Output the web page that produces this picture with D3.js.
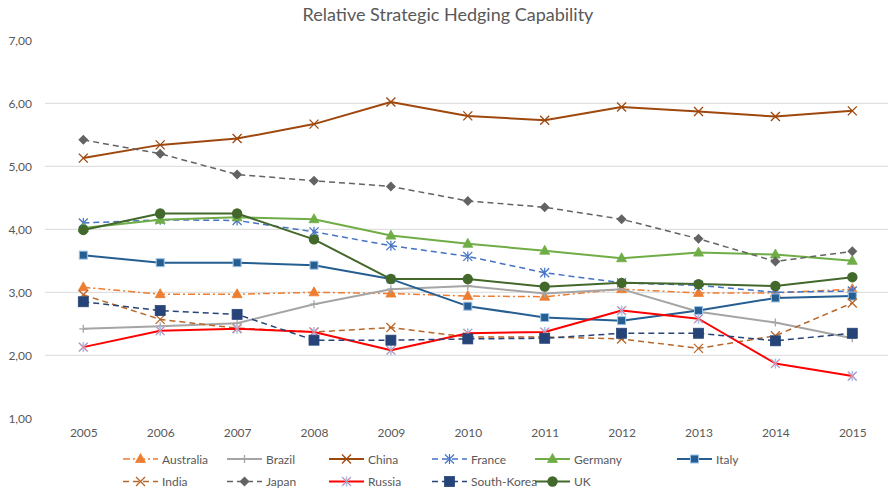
<!DOCTYPE html>
<html>
<head>
<meta charset="utf-8">
<script src="https://cdn.jsdelivr.net/npm/d3@7"></script>
<style>
  html, body { margin: 0; padding: 0; background: #fff; }
  svg { display: block; font-family: Lato, "Open Sans", sans-serif; }
</style>
</head>
<body>
<svg id="chart" width="888" height="491"></svg>
<script>
// Years on the x axis
const years = ["2005","2006","2007","2008","2009","2010","2011","2012","2013","2014","2015"];
const yTicks = [1, 2, 3, 4, 5, 6, 7];

// Series values, one array per country
const australia  = [3.08, 2.97, 2.97, 3.00, 2.98, 2.94, 2.93, 3.05, 2.99, 2.99, 3.05];
const brazil     = [2.42, 2.46, 2.51, 2.81, 3.05, 3.10, 2.98, 3.05, 2.69, 2.52, 2.27];
const china      = [5.13, 5.34, 5.44, 5.67, 6.02, 5.80, 5.73, 5.94, 5.87, 5.79, 5.88];
const france     = [4.10, 4.15, 4.14, 3.96, 3.74, 3.57, 3.31, 3.15, 3.11, 3.00, 3.02];
const germany    = [4.02, 4.15, 4.19, 4.16, 3.90, 3.77, 3.66, 3.54, 3.63, 3.60, 3.50];
const italy      = [3.59, 3.47, 3.47, 3.43, 3.21, 2.78, 2.60, 2.55, 2.71, 2.91, 2.94];
const india      = [2.96, 2.57, 2.43, 2.37, 2.44, 2.29, 2.29, 2.26, 2.11, 2.31, 2.83];
const japan      = [5.42, 5.20, 4.87, 4.77, 4.68, 4.45, 4.35, 4.16, 3.85, 3.49, 3.65];
const russia     = [2.13, 2.39, 2.42, 2.37, 2.08, 2.35, 2.37, 2.71, 2.58, 1.87, 1.67];
const southKorea = [2.85, 2.71, 2.65, 2.24, 2.24, 2.26, 2.27, 2.35, 2.35, 2.23, 2.35];
const uk         = [3.99, 4.25, 4.25, 3.84, 3.21, 3.21, 3.09, 3.15, 3.13, 3.10, 3.24];

const seriesNames = ["Australia","Brazil","China","France","Germany","Italy",
                     "India","Japan","Russia","South-Korea","UK"];
const seriesValues = [australia, brazil, china, france, germany, italy,
                      india, japan, russia, southKorea, uk];

// Drawing style for each series: line colour, dash pattern, marker
const styles = {
  "Australia":   { color: "#ED7D31", dash: "7,3,2,3", width: 1.5, marker: "triangle" },
  "Brazil":      { color: "#A5A5A5", dash: null,      width: 2,   marker: "plus" },
  "China":       { color: "#9E480E", dash: null,      width: 2,   marker: "cross" },
  "France":      { color: "#4472C4", dash: "6,4",     width: 1.5, marker: "asterisk" },
  "Germany":     { color: "#70AD47", dash: null,      width: 2,   marker: "triangle" },
  "Italy":       { color: "#255E91", dash: null,      width: 2,   marker: "squareSmall" },
  "India":       { color: "#B8672A", dash: "6,4",     width: 1.5, marker: "cross" },
  "Japan":       { color: "#636363", dash: "6,4",     width: 1.5, marker: "diamond" },
  "Russia":      { color: "#FF0000", dash: null,      width: 2,   marker: "asteriskRed" },
  "South-Korea": { color: "#264478", dash: "6,4",     width: 1.5, marker: "square" },
  "UK":          { color: "#43682B", dash: null,      width: 2,   marker: "circle" }
};

const svg = d3.select("#chart");
const plot = { left: 45, right: 890, top: 40.3, bottom: 418.3 };

const x = d3.scalePoint().domain(years).range([83.3, 852.3]);
const y = d3.scaleLinear().domain([1, 7]).range([plot.bottom, plot.top]);

const textColor = "#595959";
const font = "Lato, Open Sans, sans-serif";

// Title
svg.append("text")
  .attr("x", 448).attr("y", 21)
  .attr("text-anchor", "middle")
  .attr("font-size", 18)
  .attr("font-family", font)
  .attr("fill", textColor)
  .text("Relative Strategic Hedging Capability");

// Horizontal gridlines (2 to 6)
svg.append("g").selectAll("line")
  .data(yTicks.filter(v => v > 1 && v < 7))
  .join("line")
  .attr("x1", plot.left).attr("x2", plot.right)
  .attr("y1", d => y(d)).attr("y2", d => y(d))
  .attr("stroke", "#D9D9D9").attr("stroke-width", 1);

// Y axis labels
const fmt = v => v.toFixed(2).replace(".", ",");
const yAxis = d3.axisLeft(y).tickValues(yTicks).tickFormat(fmt).tickSize(0).tickPadding(0);
const yg = svg.append("g").attr("transform", "translate(32,0)").call(yAxis);
yg.select(".domain").remove();
yg.selectAll("text").attr("fill", textColor).attr("font-size", 12)
  .attr("font-family", font);

// X axis labels
const xAxis = d3.axisBottom(x).tickSize(0).tickPadding(0);
const xg = svg.append("g").attr("transform", "translate(0,428)").call(xAxis);
xg.select(".domain").remove();
xg.selectAll("text").attr("fill", textColor).attr("font-size", 12)
  .attr("font-family", font);

// Marker drawing
function drawMarker(g, kind, color, cx, cy) {
  switch (kind) {
    case "triangle":
      g.append("path")
        .attr("d", `M${cx},${cy - 5.5} L${cx + 5},${cy + 3.5} L${cx - 5},${cy + 3.5} Z`)
        .attr("fill", color).attr("stroke", color).attr("stroke-width", 0.8);
      break;
    case "plus":
      g.append("path")
        .attr("d", `M${cx - 4},${cy} H${cx + 4} M${cx},${cy - 4} V${cy + 4}`)
        .attr("stroke", color).attr("stroke-width", 1.3).attr("fill", "none");
      break;
    case "cross":
      g.append("path")
        .attr("d", `M${cx - 4.5},${cy - 4.5} L${cx + 4.5},${cy + 4.5} M${cx - 4.5},${cy + 4.5} L${cx + 4.5},${cy - 4.5}`)
        .attr("stroke", color).attr("stroke-width", 1.3).attr("fill", "none");
      break;
    case "asterisk":
      g.append("path")
        .attr("d", `M${cx - 4.5},${cy - 4.5} L${cx + 4.5},${cy + 4.5} M${cx - 4.5},${cy + 4.5} L${cx + 4.5},${cy - 4.5} M${cx},${cy - 5} V${cy + 5}`)
        .attr("stroke", color).attr("stroke-width", 1.2).attr("fill", "none");
      break;
    case "asteriskRed":
      g.append("path")
        .attr("d", `M${cx - 4.5},${cy - 4.5} L${cx + 4.5},${cy + 4.5} M${cx - 4.5},${cy + 4.5} L${cx + 4.5},${cy - 4.5} M${cx},${cy - 5} V${cy + 5}`)
        .attr("stroke", "#A9C4EB").attr("stroke-width", 1.6).attr("fill", "none");
      g.append("path")
        .attr("d", `M${cx - 4},${cy - 4} L${cx + 4},${cy + 4} M${cx - 4},${cy + 4} L${cx + 4},${cy - 4}`)
        .attr("stroke", "#F07088").attr("stroke-width", 1).attr("fill", "none");
      break;
    case "squareSmall":
      g.append("rect")
        .attr("x", cx - 4).attr("y", cy - 4).attr("width", 8).attr("height", 8)
        .attr("fill", color).attr("stroke", "#9DC3E6").attr("stroke-width", 1);
      break;
    case "square":
      g.append("rect")
        .attr("x", cx - 5).attr("y", cy - 5).attr("width", 10).attr("height", 10)
        .attr("fill", color).attr("stroke", color).attr("stroke-width", 0.8);
      break;
    case "diamond":
      g.append("path")
        .attr("d", `M${cx},${cy - 5} L${cx + 5},${cy} L${cx},${cy + 5} L${cx - 5},${cy} Z`)
        .attr("fill", color);
      break;
    case "circle":
      g.append("circle")
        .attr("cx", cx).attr("cy", cy).attr("r", 5.2)
        .attr("fill", color);
      break;
  }
}

const line = d3.line()
  .x((d, i) => x(years[i]))
  .y(d => y(d));

// Series lines and markers
seriesNames.forEach((name, si) => {
  const st = styles[name];
  const vals = seriesValues[si];
  const g = svg.append("g").attr("class", "series");
  g.append("path")
    .datum(vals)
    .attr("d", line)
    .attr("fill", "none")
    .attr("stroke", st.color)
    .attr("stroke-width", st.width)
    .attr("stroke-dasharray", st.dash)
    .attr("stroke-linejoin", "round");
  vals.forEach((v, i) => drawMarker(g, st.marker, st.color, x(years[i]), y(v)));
});

// Legend: two rows
const legendCols = [123, 227, 329, 432, 535, 677];
const legendRows = [459, 481.5];
const legend = svg.append("g");
seriesNames.forEach((name, i) => {
  const st = styles[name];
  const lx = legendCols[i < 6 ? i : i - 6];
  const ly = legendRows[i < 6 ? 0 : 1];
  const g = legend.append("g");
  g.append("line")
    .attr("x1", lx).attr("x2", lx + 35)
    .attr("y1", ly).attr("y2", ly)
    .attr("stroke", st.color).attr("stroke-width", st.width)
    .attr("stroke-dasharray", st.dash);
  drawMarker(g, st.marker, st.color, lx + 17.5, ly);
  g.append("text")
    .attr("x", lx + 39).attr("y", ly + 4.5)
    .attr("font-size", 12)
    .attr("font-family", font)
    .attr("fill", textColor)
    .text(name);
});
</script>
</body>
</html>
